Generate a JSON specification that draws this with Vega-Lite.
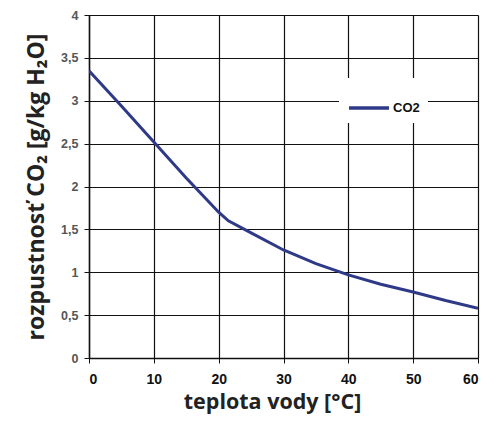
{
  "$schema": "https://vega.github.io/schema/vega-lite/v6.json",
  "width": 389,
  "height": 343,
  "autosize": {"type": "none"},
  "padding": {"left": 89, "top": 15, "right": 12, "bottom": 65},
  "background": "white",
  "config": {"view": {"stroke": null}},
  "data": {
    "values": [
      {"t": 0, "v": 3.35, "s": "CO2"},
      {"t": 5, "v": 2.94, "s": "CO2"},
      {"t": 10, "v": 2.52, "s": "CO2"},
      {"t": 15, "v": 2.1, "s": "CO2"},
      {"t": 20, "v": 1.7, "s": "CO2"},
      {"t": 21.5, "v": 1.6, "s": "CO2"},
      {"t": 25, "v": 1.46, "s": "CO2"},
      {"t": 30, "v": 1.26, "s": "CO2"},
      {"t": 35, "v": 1.1, "s": "CO2"},
      {"t": 40, "v": 0.97, "s": "CO2"},
      {"t": 45, "v": 0.86, "s": "CO2"},
      {"t": 50, "v": 0.77, "s": "CO2"},
      {"t": 55, "v": 0.67, "s": "CO2"},
      {"t": 60, "v": 0.58, "s": "CO2"}
    ]
  },
  "mark": {"type": "line", "strokeWidth": 3, "clip": true},
  "encoding": {
    "x": {
      "field": "t", "type": "quantitative",
      "scale": {"domain": [0, 60], "nice": false, "zero": false},
      "axis": {
        "values": [0, 10, 20, 30, 40, 50, 60],
        "title": "teplota vody [°C]",
        "titleFont": "Open Sans", "titleFontSize": 21.5, "titleFontWeight": "bold", "titleColor": "#222",
        "titlePadding": 5,
        "titleX": 183,
        "labelFont": "Liberation Sans", "labelFontSize": 14, "labelFontWeight": "bold", "labelColor": "#111",
        "labelPadding": 9,
        "domainColor": "#111", "domainWidth": 1.5,
        "tickColor": "#111", "tickSize": 5,
        "grid": true, "gridColor": "#111", "gridWidth": 1.2, "gridOpacity": 1
      }
    },
    "y": {
      "field": "v", "type": "quantitative",
      "scale": {"domain": [0, 4], "nice": false},
      "axis": {
        "values": [0, 0.5, 1, 1.5, 2, 2.5, 3, 3.5, 4],
        "labelExpr": "replace(format(datum.value, '~g'), '.', ',')",
        "title": "rozpustnosť CO₂ [g/kg H₂O]",
        "titleFont": "Open Sans", "titleFontSize": 23, "titleFontWeight": "bold", "titleColor": "#222",
        "titlePadding": 12,
        "labelFont": "Liberation Sans", "labelFontSize": 12.5, "labelFontWeight": "bold", "labelColor": "#555",
        "labelPadding": 6,
        "domainColor": "#111", "domainWidth": 1.5,
        "tickColor": "#111", "tickSize": 5,
        "grid": true, "gridColor": "#111", "gridWidth": 1.2, "gridOpacity": 1
      }
    },
    "color": {
      "field": "s", "type": "nominal",
      "scale": {"range": ["#2e3a87"]},
      "legend": {
        "title": null,
        "orient": "none",
        "legendX": 250,
        "legendY": 63,
        "fillColor": "white",
        "padding": 8,
        "symbolType": "stroke",
        "symbolSize": 1600,
        "symbolStrokeWidth": 3.5,
        "labelFont": "Liberation Sans",
        "labelFontSize": 13,
        "labelFontWeight": "bold",
        "labelColor": "#111",
        "labelOffset": 2
      }
    }
  }
}
